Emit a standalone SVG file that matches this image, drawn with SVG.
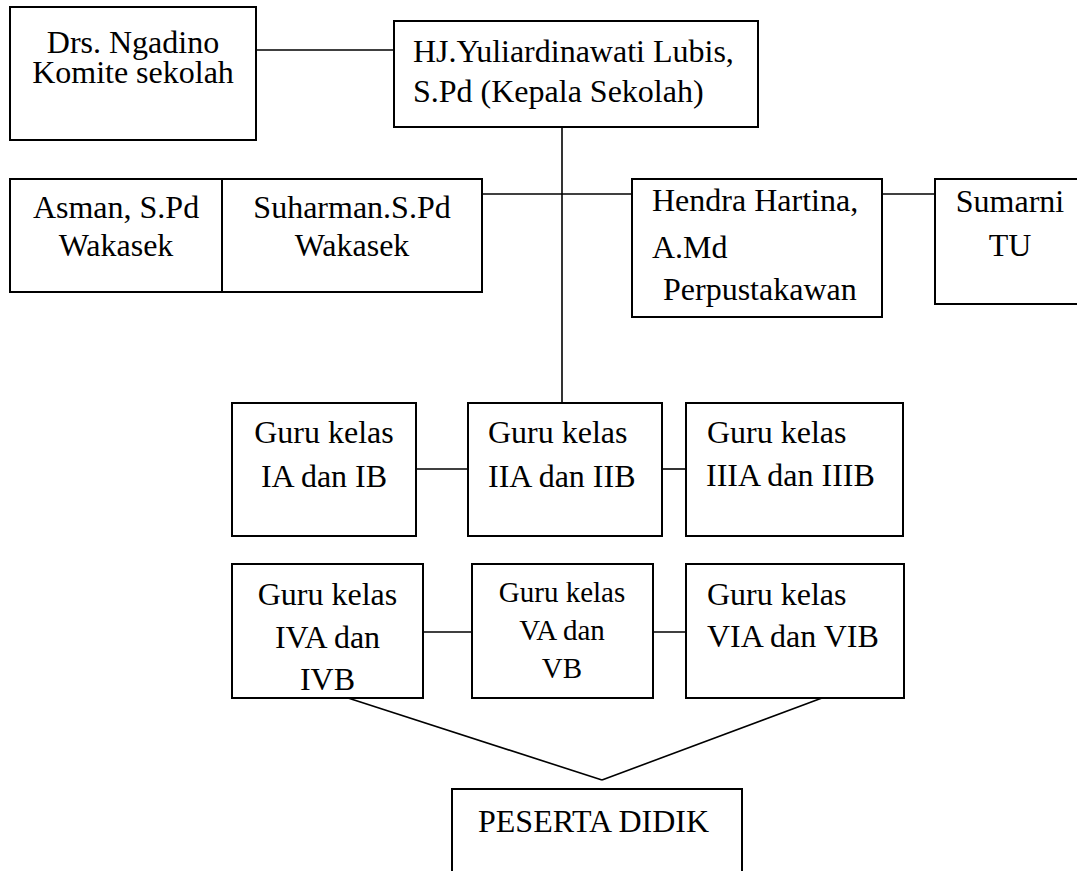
<svg xmlns="http://www.w3.org/2000/svg" width="1077" height="871" viewBox="0 0 1077 871">
<style>
rect{fill:#fff;stroke:#000;stroke-width:2}
.c line{stroke:#000;stroke-width:1.6}
text{font-family:"Liberation Serif","Times New Roman",serif;font-size:32px;fill:#000}
.m{text-anchor:middle}
.s{font-size:29px}
</style>
<rect x="0" y="0" width="1077" height="871" style="stroke:none"/>
<g class="c" id="connectors">
<line x1="256" y1="50" x2="394" y2="50"/>
<line x1="562" y1="127" x2="562" y2="403"/>
<line x1="482" y1="194" x2="632" y2="194"/>
<line x1="882" y1="194" x2="935" y2="194"/>
<line x1="416" y1="469" x2="468" y2="469"/>
<line x1="662" y1="469" x2="686" y2="469"/>
<line x1="423" y1="632" x2="472" y2="632"/>
<line x1="653" y1="632" x2="686" y2="632"/>
<line x1="348" y1="698" x2="602" y2="780"/>
<line x1="602" y1="780" x2="822" y2="698"/>
</g>
<g id="komite">
<rect x="10" y="7" width="246" height="133"/>
<text class="m" x="133" y="53">Drs. Ngadino</text>
<text class="m" x="133" y="83">Komite sekolah</text>
</g>
<g id="kepala">
<rect x="394" y="21" width="364" height="106"/>
<text x="413" y="62">HJ.Yuliardinawati Lubis,</text>
<text x="413" y="102">S.Pd (Kepala Sekolah)</text>
</g>
<g id="asman">
<rect x="10" y="179" width="212" height="113"/>
<text class="m" x="116" y="218">Asman, S.Pd</text>
<text class="m" x="116" y="256">Wakasek</text>
</g>
<g id="suharman">
<rect x="222" y="179" width="260" height="113"/>
<text class="m" x="352" y="218">Suharman.S.Pd</text>
<text class="m" x="352" y="256">Wakasek</text>
</g>
<g id="hendra">
<rect x="632" y="179" width="250" height="138"/>
<text x="652" y="211">Hendra Hartina,</text>
<text x="652" y="258">A.Md</text>
<text x="663" y="300">Perpustakawan</text>
</g>
<g id="sumarni">
<rect x="935" y="179" width="150" height="125"/>
<text class="m" x="1010" y="212">Sumarni</text>
<text class="m" x="1010" y="256">TU</text>
</g>
<g id="guru1">
<rect x="232" y="403" width="184" height="133"/>
<text class="m" x="324" y="443">Guru kelas</text>
<text class="m" x="324" y="487">IA dan IB</text>
</g>
<g id="guru2">
<rect x="468" y="403" width="194" height="133"/>
<text x="488" y="443">Guru kelas</text>
<text x="488" y="487">IIA dan IIB</text>
</g>
<g id="guru3">
<rect x="686" y="403" width="217" height="133"/>
<text x="707" y="443">Guru kelas</text>
<text x="706" y="486">IIIA dan IIIB</text>
</g>
<g id="guru4">
<rect x="232" y="564" width="191" height="134"/>
<text class="m" x="327.5" y="605">Guru kelas</text>
<text class="m" x="327.5" y="648">IVA dan</text>
<text class="m" x="327.5" y="690">IVB</text>
</g>
<g id="guru5">
<rect x="472" y="564" width="181" height="134"/>
<text class="m s" x="562" y="602">Guru kelas</text>
<text class="m s" x="562" y="640">VA dan</text>
<text class="m s" x="562" y="678">VB</text>
</g>
<g id="guru6">
<rect x="686" y="564" width="218" height="134"/>
<text x="707" y="605">Guru kelas</text>
<text x="707" y="647">VIA dan VIB</text>
</g>
<g id="peserta">
<rect x="452" y="789" width="290" height="100"/>
<text x="478" y="832">PESERTA DIDIK</text>
</g>
</svg>
